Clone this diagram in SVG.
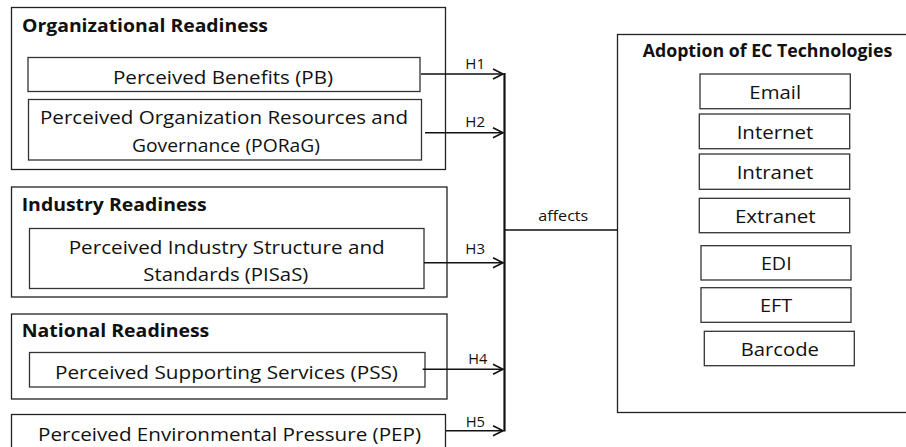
<svg xmlns="http://www.w3.org/2000/svg" width="906" height="447" viewBox="0 0 906 447">
<style>
.box{fill:#fff;stroke:#222;stroke-width:1.3}
.ibox{fill:#fff;stroke:#333;stroke-width:1.3}
.t{font-family:"Open Sans","Liberation Sans",sans-serif;font-size:18.5px;fill:#111}
.b{font-family:"Open Sans","Liberation Sans",sans-serif;font-size:18.5px;font-weight:bold;fill:#111}
.h{font-family:"Open Sans","Liberation Sans",sans-serif;font-size:14.5px;fill:#111}
.c{text-anchor:middle}
.ln{stroke:#111;stroke-width:1.6;fill:none}
</style>
<defs>
<marker id="arr" markerUnits="userSpaceOnUse" markerWidth="14" markerHeight="14" refX="11" refY="6" orient="auto">
<path d="M1,1 L11,6 L1,11" fill="none" stroke="#111" stroke-width="1.6"/>
</marker>
</defs>
<rect width="906" height="447" fill="#fff"/>
<g id="org">
<rect class="box" x="11.5" y="7.5" width="434" height="162"/>
<text class="b" x="22" y="32" textLength="246" lengthAdjust="spacingAndGlyphs">Organizational Readiness</text>
</g>
<g id="pb">
<rect class="ibox" x="28" y="57.5" width="392" height="34"/>
<text class="t c" x="223" y="83.5" textLength="220" lengthAdjust="spacingAndGlyphs">Perceived Benefits (PB)</text>
</g>
<g id="porag">
<rect class="ibox" x="28.5" y="99.5" width="393" height="60.5"/>
<text class="t c" x="224" y="124" textLength="368" lengthAdjust="spacingAndGlyphs">Perceived Organization Resources and</text>
<text class="t c" x="226" y="152" textLength="188" lengthAdjust="spacingAndGlyphs">Governance (PORaG)</text>
</g>
<g id="industry">
<rect class="box" x="11.5" y="187" width="435.5" height="110"/>
<text class="b" x="21.7" y="210.7" textLength="185" lengthAdjust="spacingAndGlyphs">Industry Readiness</text>
</g>
<g id="pisas">
<rect class="ibox" x="29.5" y="228.5" width="394.5" height="60"/>
<text class="t c" x="226.7" y="253.5" textLength="316" lengthAdjust="spacingAndGlyphs">Perceived Industry Structure and</text>
<text class="t c" x="225.8" y="280.5" textLength="165" lengthAdjust="spacingAndGlyphs">Standards (PISaS)</text>
</g>
<g id="national">
<rect class="box" x="11.5" y="314" width="435.5" height="85"/>
<text class="b" x="21.7" y="337.3" textLength="187.6" lengthAdjust="spacingAndGlyphs">National Readiness</text>
</g>
<g id="pss">
<rect class="ibox" x="29.5" y="352.5" width="395.5" height="34.5"/>
<text class="t c" x="226.5" y="378.8" textLength="343" lengthAdjust="spacingAndGlyphs">Perceived Supporting Services (PSS)</text>
</g>
<g id="pep">
<rect class="box" x="11.5" y="414.5" width="434" height="40"/>
<text class="t c" x="229.5" y="440.5" textLength="383" lengthAdjust="spacingAndGlyphs">Perceived Environmental Pressure (PEP)</text>
</g>
<g id="adoption">
<rect class="box" x="617.5" y="34.5" width="300" height="378"/>
<text class="b" x="642.7" y="56.5" textLength="249.6" lengthAdjust="spacingAndGlyphs">Adoption of EC Technologies</text>
</g>
<g id="email">
<rect class="ibox" x="700" y="74" width="150.3" height="34.7"/>
<text class="t c" x="775.2" y="99" textLength="51.7" lengthAdjust="spacingAndGlyphs">Email</text>
</g>
<g id="internet">
<rect class="ibox" x="699.3" y="114" width="150.4" height="34.7"/>
<text class="t c" x="775" y="139" textLength="76.7" lengthAdjust="spacingAndGlyphs">Internet</text>
</g>
<g id="intranet">
<rect class="ibox" x="699.3" y="154" width="150.4" height="35.3"/>
<text class="t c" x="775" y="179" textLength="76.7" lengthAdjust="spacingAndGlyphs">Intranet</text>
</g>
<g id="extranet">
<rect class="ibox" x="699.3" y="198.3" width="150.4" height="34.4"/>
<text class="t c" x="775.3" y="223" textLength="80.7" lengthAdjust="spacingAndGlyphs">Extranet</text>
</g>
<g id="edi">
<rect class="ibox" x="701" y="245.7" width="150" height="34.3"/>
<text class="t c" x="776.3" y="270" textLength="30.7" lengthAdjust="spacingAndGlyphs">EDI</text>
</g>
<g id="eft">
<rect class="ibox" x="701" y="287.7" width="150" height="34.6"/>
<text class="t c" x="776.2" y="311.7" textLength="32.3" lengthAdjust="spacingAndGlyphs">EFT</text>
</g>
<g id="barcode">
<rect class="ibox" x="704.3" y="331.3" width="150" height="34.4"/>
<text class="t c" x="779.8" y="356" textLength="78.3" lengthAdjust="spacingAndGlyphs">Barcode</text>
</g>
<g id="connectors">
<line class="ln" x1="421" y1="74" x2="503" y2="74" marker-end="url(#arr)"/>
<line class="ln" x1="425" y1="132.7" x2="503" y2="132.7" marker-end="url(#arr)"/>
<line class="ln" x1="424" y1="262.7" x2="503" y2="262.7" marker-end="url(#arr)"/>
<line class="ln" x1="422.7" y1="369.3" x2="503" y2="369.3" marker-end="url(#arr)"/>
<line class="ln" x1="446" y1="430.7" x2="503" y2="430.7" marker-end="url(#arr)"/>
<line class="ln" x1="504.5" y1="73" x2="504.5" y2="431.5" style="stroke-width:2.2"/>
<line class="ln" x1="504" y1="230" x2="617.5" y2="230"/>
<text class="h" x="465.3" y="69" textLength="19.7" lengthAdjust="spacingAndGlyphs">H1</text>
<text class="h" x="465.3" y="127" textLength="19.7" lengthAdjust="spacingAndGlyphs">H2</text>
<text class="h" x="465.3" y="254" textLength="19.7" lengthAdjust="spacingAndGlyphs">H3</text>
<text class="h" x="468.3" y="364.3" textLength="19" lengthAdjust="spacingAndGlyphs">H4</text>
<text class="h" x="465.7" y="426.7" textLength="19.3" lengthAdjust="spacingAndGlyphs">H5</text>
<text class="h" x="538.3" y="221" textLength="50" lengthAdjust="spacingAndGlyphs">affects</text>
</g>
</svg>
